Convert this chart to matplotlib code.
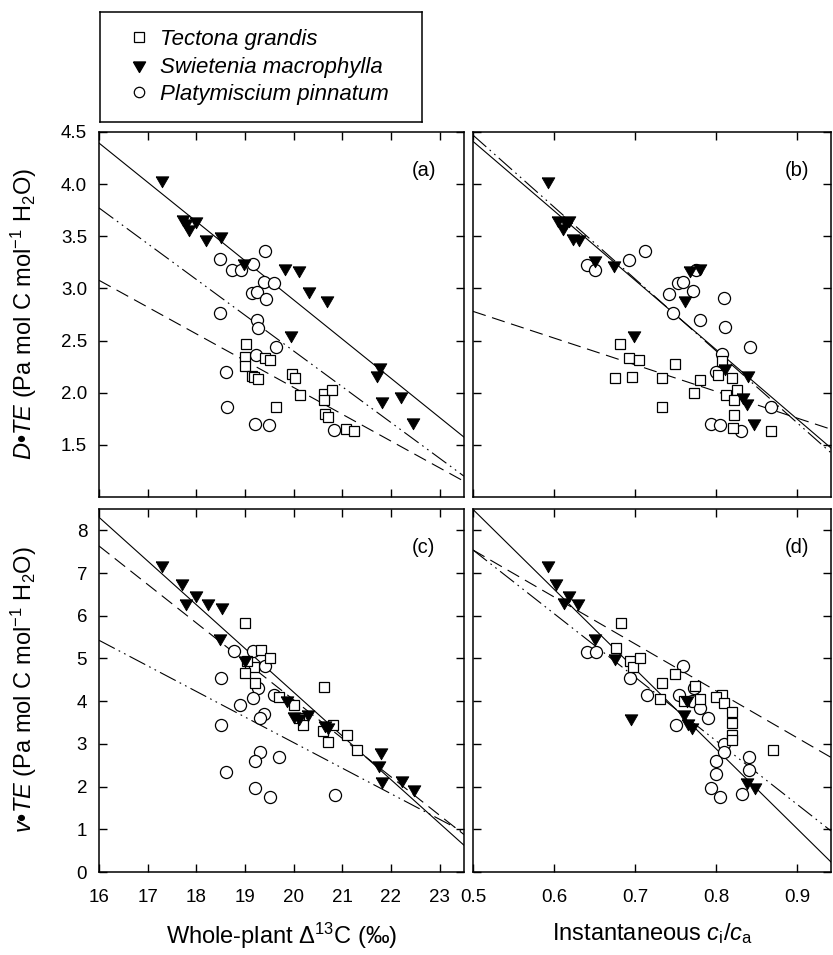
import matplotlib
matplotlib.use('Agg')
import matplotlib.pyplot as plt
import numpy as np
from matplotlib.lines import Line2D

plt.rcParams['font.family'] = ['Liberation Sans', 'DejaVu Sans']
plt.rcParams['mathtext.fontset'] = 'custom'
plt.rcParams['mathtext.rm'] = 'Liberation Sans'
plt.rcParams['mathtext.it'] = 'Liberation Sans:italic'
plt.rcParams['mathtext.bf'] = 'Liberation Sans:bold'

species = ['Tectona grandis', 'Swietenia macrophylla', 'Platymiscium pinnatum']

# (a) D*TE vs whole-plant D13C
a_tg_x = [19.02, 19.01, 19.01, 19.42, 19.52, 19.15, 19.19, 19.27, 19.96, 20.03,
          20.13, 19.64, 20.63, 20.79, 20.63, 20.64, 20.71, 21.07, 21.25]
a_tg_y = [2.47, 2.34, 2.26, 2.33, 2.31, 2.16, 2.15, 2.13, 2.18, 2.14,
          1.98, 1.86, 1.99, 2.03, 1.93, 1.80, 1.77, 1.65, 1.63]
a_sm_x = [17.29, 17.72, 17.78, 17.85, 18.00, 18.20, 18.51, 18.97, 19.82, 20.11,
          20.32, 20.69, 19.94, 21.77, 21.72, 21.82, 22.21, 22.46]
a_sm_y = [4.04, 3.67, 3.63, 3.57, 3.65, 3.47, 3.50, 3.24, 3.20, 3.18,
          2.98, 2.89, 2.55, 2.25, 2.17, 1.92, 1.97, 1.72]
a_pp_x = [18.49, 18.74, 18.91, 19.16, 19.42, 19.40, 19.60, 19.15, 19.24, 19.43,
          18.49, 19.24, 19.27, 19.64, 19.23, 18.60, 18.62, 19.21, 19.49, 20.83]
a_pp_y = [3.28, 3.18, 3.18, 3.23, 3.36, 3.06, 3.05, 2.96, 2.97, 2.90,
          2.76, 2.70, 2.62, 2.44, 2.36, 2.20, 1.86, 1.70, 1.69, 1.64]

# (b) D*TE vs instantaneous ci/ca
b_tg_x = [0.681, 0.693, 0.705, 0.675, 0.696, 0.733, 0.749, 0.780, 0.772, 0.733,
          0.807, 0.802, 0.820, 0.825, 0.812, 0.822, 0.822, 0.821, 0.867]
b_tg_y = [2.47, 2.33, 2.31, 2.14, 2.15, 2.14, 2.28, 2.12, 2.00, 1.86,
          2.30, 2.17, 2.14, 2.03, 1.98, 1.93, 1.79, 1.66, 1.63]
b_sm_x = [0.593, 0.605, 0.615, 0.611, 0.619, 0.623, 0.631, 0.650, 0.674, 0.768,
          0.780, 0.761, 0.698, 0.811, 0.839, 0.833, 0.838, 0.846]
b_sm_y = [4.03, 3.66, 3.64, 3.58, 3.66, 3.48, 3.47, 3.27, 3.22, 3.18,
          3.20, 2.89, 2.55, 2.24, 2.17, 1.96, 1.90, 1.71]
b_pp_x = [0.640, 0.651, 0.693, 0.712, 0.775, 0.753, 0.759, 0.742, 0.771, 0.809,
          0.747, 0.780, 0.811, 0.842, 0.807, 0.800, 0.868, 0.793, 0.804, 0.830]
b_pp_y = [3.22, 3.18, 3.27, 3.36, 3.18, 3.05, 3.06, 2.95, 2.98, 2.91,
          2.76, 2.70, 2.63, 2.44, 2.37, 2.20, 1.86, 1.70, 1.69, 1.63]

# (c) v*TE vs whole-plant D13C
c_tg_x = [19.01, 19.32, 19.52, 19.19, 19.01, 19.21, 20.63, 19.70, 20.00, 20.10,
          20.20, 20.60, 20.70, 20.80, 21.10, 21.30, 19.05]
c_tg_y = [5.82, 5.20, 5.00, 4.80, 4.65, 4.42, 4.34, 4.10, 3.90, 3.60,
          3.45, 3.30, 3.05, 3.45, 3.20, 2.85, 4.95]
c_sm_x = [17.29, 17.70, 17.79, 17.99, 18.23, 18.53, 18.48, 19.01, 19.86, 20.00,
          20.10, 20.30, 20.65, 20.70, 21.80, 21.75, 21.81, 22.22, 22.47]
c_sm_y = [7.19, 6.76, 6.29, 6.49, 6.29, 6.21, 5.47, 4.96, 4.03, 3.65,
          3.60, 3.70, 3.45, 3.40, 2.80, 2.50, 2.12, 2.15, 1.94]
c_pp_x = [18.77, 19.16, 19.41, 18.50, 19.27, 19.16, 19.60, 18.90, 19.40, 19.30,
          18.50, 18.60, 19.30, 19.20, 19.70, 19.21, 19.51, 20.85]
c_pp_y = [5.18, 5.18, 4.82, 4.54, 4.30, 4.07, 4.15, 3.90, 3.70, 3.60,
          3.45, 2.35, 2.80, 2.60, 2.70, 1.96, 1.75, 1.80]

# (d) v*TE vs instantaneous ci/ca
d_tg_x = [0.682, 0.676, 0.694, 0.697, 0.706, 0.733, 0.749, 0.774, 0.807, 0.780,
          0.800, 0.810, 0.820, 0.820, 0.820, 0.820, 0.870, 0.730, 0.760]
d_tg_y = [5.82, 5.24, 4.93, 4.79, 5.00, 4.42, 4.64, 4.36, 4.15, 4.05,
          4.10, 3.95, 3.75, 3.50, 3.20, 3.10, 2.85, 4.05, 4.00]
d_sm_x = [0.592, 0.602, 0.618, 0.612, 0.630, 0.651, 0.675, 0.764, 0.760, 0.765,
          0.770, 0.695, 0.838, 0.848]
d_sm_y = [7.19, 6.76, 6.49, 6.33, 6.29, 5.47, 5.00, 4.03, 3.70, 3.50,
          3.40, 3.60, 2.11, 1.98]
d_pp_x = [0.641, 0.652, 0.694, 0.714, 0.754, 0.772, 0.759, 0.750, 0.770, 0.780,
          0.790, 0.810, 0.810, 0.800, 0.840, 0.840, 0.800, 0.794, 0.805, 0.832]
d_pp_y = [5.16, 5.16, 4.54, 4.15, 4.15, 4.30, 4.82, 3.45, 4.00, 3.85,
          3.60, 3.00, 2.80, 2.60, 2.70, 2.40, 2.30, 1.96, 1.75, 1.83]

# regression lines: (intercept, slope) for Tectona, Swietenia, Platymiscium
a_fit = [(7.19, -0.257), (10.41, -0.376), (9.26, -0.343)]
b_fit = [(4.06, -2.56), (7.74, -6.66), (7.92, -6.90)]
c_fit = [(22.05, -0.901), (24.69, -1.024), (15.01, -0.599)]
d_fit = [(13.04, -11.0), (17.84, -18.7), (14.99, -14.9)]

W, H = 833, 955
fig = plt.figure(figsize=(W / 100, H / 100), dpi=100)


def box(x0, y0, w, h):
    return [x0 / W, 1 - (y0 + h) / H, w / W, h / H]


# equilateral downward triangle
tri = [(-1, 0.58), (1, 0.58), (0, -1.15), (-1, 0.58)]
markers = [dict(marker='s', ms=7.8, mfc='white', mec='black', mew=0.9),
           dict(marker=tri, ms=10.5, mfc='black', mec='black', mew=0.6),
           dict(marker='o', ms=8.7, mfc='white', mec='black', mew=0.9)]
styles = [dict(ls=(0, (12, 6))), dict(ls='-'), dict(ls=(0, (16, 4, 1.5, 4, 1.5, 4)))]


def panel(rect, xs, ys, fits, xlim, ylim, letter, lx):
    ax = fig.add_axes(rect)
    xx = np.array(xlim)
    for (b0, b1), st in zip(fits, styles):
        ax.plot(xx, b0 + b1 * xx, color='black', lw=0.8, **st)
    for i in [2, 0, 1]:
        ax.plot(xs[i], ys[i], ls='none', **markers[i])
    ax.set_xlim(xlim)
    ax.set_ylim(ylim)
    ax.tick_params(direction='in', top=True, right=True, length=6, width=1,
                   labelsize=13.5)
    ax.tick_params(axis='x', pad=12)
    ax.tick_params(axis='y', pad=8.5)
    for s in ax.spines.values():
        s.set_linewidth(1.1)
    ax.text(lx, 0.895, letter, transform=ax.transAxes, fontsize=14.5,
            ha='center', va='center')
    return ax


ax_a = panel(box(99, 132, 365, 365), [a_tg_x, a_sm_x, a_pp_x], [a_tg_y, a_sm_y, a_pp_y],
             a_fit, (16, 23.5), (1.0, 4.5), '(a)', 0.89)
ax_b = panel(box(473, 132, 358, 365), [b_tg_x, b_sm_x, b_pp_x], [b_tg_y, b_sm_y, b_pp_y],
             b_fit, (0.5, 0.9415), (1.0, 4.5), '(b)', 0.905)
ax_c = panel(box(99, 509, 365, 363), [c_tg_x, c_sm_x, c_pp_x], [c_tg_y, c_sm_y, c_pp_y],
             c_fit, (16, 23.5), (0, 8.5), '(c)', 0.89)
ax_d = panel(box(473, 509, 358, 363), [d_tg_x, d_sm_x, d_pp_x], [d_tg_y, d_sm_y, d_pp_y],
             d_fit, (0.5, 0.9415), (0, 8.5), '(d)', 0.905)

for ax in (ax_a, ax_c):
    ax.set_xticks(np.arange(16, 24, 1))
for ax in (ax_b, ax_d):
    ax.set_xticks(np.arange(0.5, 0.95, 0.1))
for ax in (ax_a, ax_b):
    ax.set_yticks(np.arange(1.5, 4.6, 0.5))
    ax.tick_params(labelbottom=False)
for ax in (ax_c, ax_d):
    ax.set_yticks(np.arange(0, 9, 1))
for ax in (ax_b, ax_d):
    ax.tick_params(labelleft=False)
ax_a.set_yticklabels(['1.5', '2.0', '2.5', '3.0', '3.5', '4.0', '4.5'])
ax_d.set_xticklabels(['0.5', '0.6', '0.7', '0.8', '0.9'])

ax_c.set_xlabel('Whole-plant $\\Delta^{13}$C (‰)', fontsize=17, labelpad=11)
ax_d.set_xlabel('Instantaneous $\\it{c}_\\mathrm{i}/\\it{c}_\\mathrm{a}$', fontsize=17, labelpad=11)
fig.text(24 / W, 1 - 314 / H, '$\\it{D}$•$\\it{TE}$ (Pa mol C mol$^{-1}$ H$_2$O)',
         rotation=90, fontsize=17, ha='center', va='center')
fig.text(24 / W, 1 - 690 / H, '$\\it{v}$•$\\it{TE}$ (Pa mol C mol$^{-1}$ H$_2$O)',
         rotation=90, fontsize=17, ha='center', va='center')

# legend box
ax_leg = fig.add_axes(box(100, 12, 322, 110))
ax_leg.set_xticks([])
ax_leg.set_yticks([])
for s in ax_leg.spines.values():
    s.set_linewidth(1.1)
handles = [Line2D([], [], ls='none', marker='s', ms=7, mfc='white', mec='black', mew=0.9),
           Line2D([], [], ls='none', marker=tri, ms=10, mfc='black', mec='black'),
           Line2D([], [], ls='none', marker='o', ms=7.5, mfc='white', mec='black', mew=0.9)]
ax_leg.legend(handles, species, loc='center left', bbox_to_anchor=(0.055, 0.5),
              frameon=False, prop={'style': 'italic', 'size': 16},
              handlelength=0.9, handletextpad=0.5, labelspacing=0.29, borderpad=0)

fig.savefig('out.png', dpi=100)
